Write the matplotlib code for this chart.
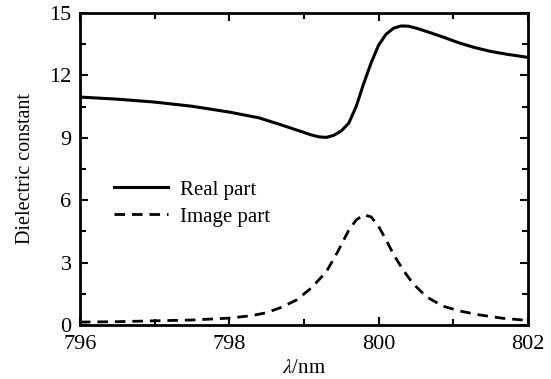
import matplotlib
matplotlib.use('Agg')
import matplotlib.pyplot as plt
from matplotlib.ticker import MultipleLocator

plt.rcParams['font.family'] = ['Liberation Serif', 'DejaVu Serif']
plt.rcParams['mathtext.fontset'] = 'stix'

# wavelength (nm) and real part
wl_real = [796.0, 796.5, 797.0, 797.5, 798.0, 798.4, 798.7, 798.9, 799.1, 799.2,
           799.3, 799.4, 799.5, 799.6, 799.7, 799.8, 799.9, 800.0, 800.1, 800.2,
           800.3, 800.4, 800.5, 800.7, 800.9, 801.1, 801.3, 801.5, 801.7, 802.0]
real_part = [10.96, 10.86, 10.72, 10.52, 10.24, 9.96, 9.62, 9.38, 9.14, 9.05,
             9.02, 9.12, 9.33, 9.70, 10.50, 11.60, 12.60, 13.45, 13.98, 14.27,
             14.38, 14.37, 14.28, 14.05, 13.80, 13.54, 13.33, 13.16, 13.03, 12.87]

# wavelength (nm) and imaginary part
wl_imag = [796.0, 796.5, 797.0, 797.5, 798.0, 798.3, 798.5, 798.7, 798.9, 799.1,
           799.3, 799.45, 799.6, 799.7, 799.8, 799.9, 800.0, 800.1, 800.2, 800.33,
           800.46, 800.64, 800.86, 801.09, 801.36, 801.67, 802.0]
imag_part = [0.14, 0.16, 0.20, 0.24, 0.33, 0.45, 0.59, 0.85, 1.20, 1.78,
             2.56, 3.50, 4.55, 5.05, 5.30, 5.20, 4.75, 4.10, 3.40, 2.64,
             2.00, 1.36, 0.91, 0.67, 0.48, 0.32, 0.22]

fig = plt.figure(figsize=(5.51, 3.79), dpi=100)
ax = fig.add_axes([0.145, 0.1425, 0.813, 0.823])

ax.plot(wl_real, real_part, color='black', lw=2.2, label='Real part')
ax.plot(wl_imag, imag_part, color='black', lw=2.0, dashes=(3.8, 2.5), label='Image part')

ax.set_xlim(796, 802)
ax.set_ylim(0, 15)
ax.xaxis.set_major_locator(MultipleLocator(2))
ax.xaxis.set_minor_locator(MultipleLocator(1))
ax.yaxis.set_major_locator(MultipleLocator(3))
ax.yaxis.set_minor_locator(MultipleLocator(1.5))
ax.tick_params(which='both', direction='in', top=True, right=True, width=1.5, labelsize=16)
ax.tick_params(which='major', length=6)
ax.tick_params(which='minor', length=4)
ax.tick_params(axis='x', which='major', pad=7)
ax.tick_params(axis='y', which='major', pad=6)
for s in ax.spines.values():
    s.set_linewidth(2)

ax.set_xlabel(r'$\lambda$/nm', fontsize=15, labelpad=4)
ax.set_ylabel('Dielectric constant', fontsize=14.5, labelpad=10)

ax.legend(loc='center left', bbox_to_anchor=(0.035, 0.39), frameon=False, fontsize=15,
          handlelength=2.6, handletextpad=0.55, labelspacing=0.35)

fig.savefig('out.png', dpi=100)
